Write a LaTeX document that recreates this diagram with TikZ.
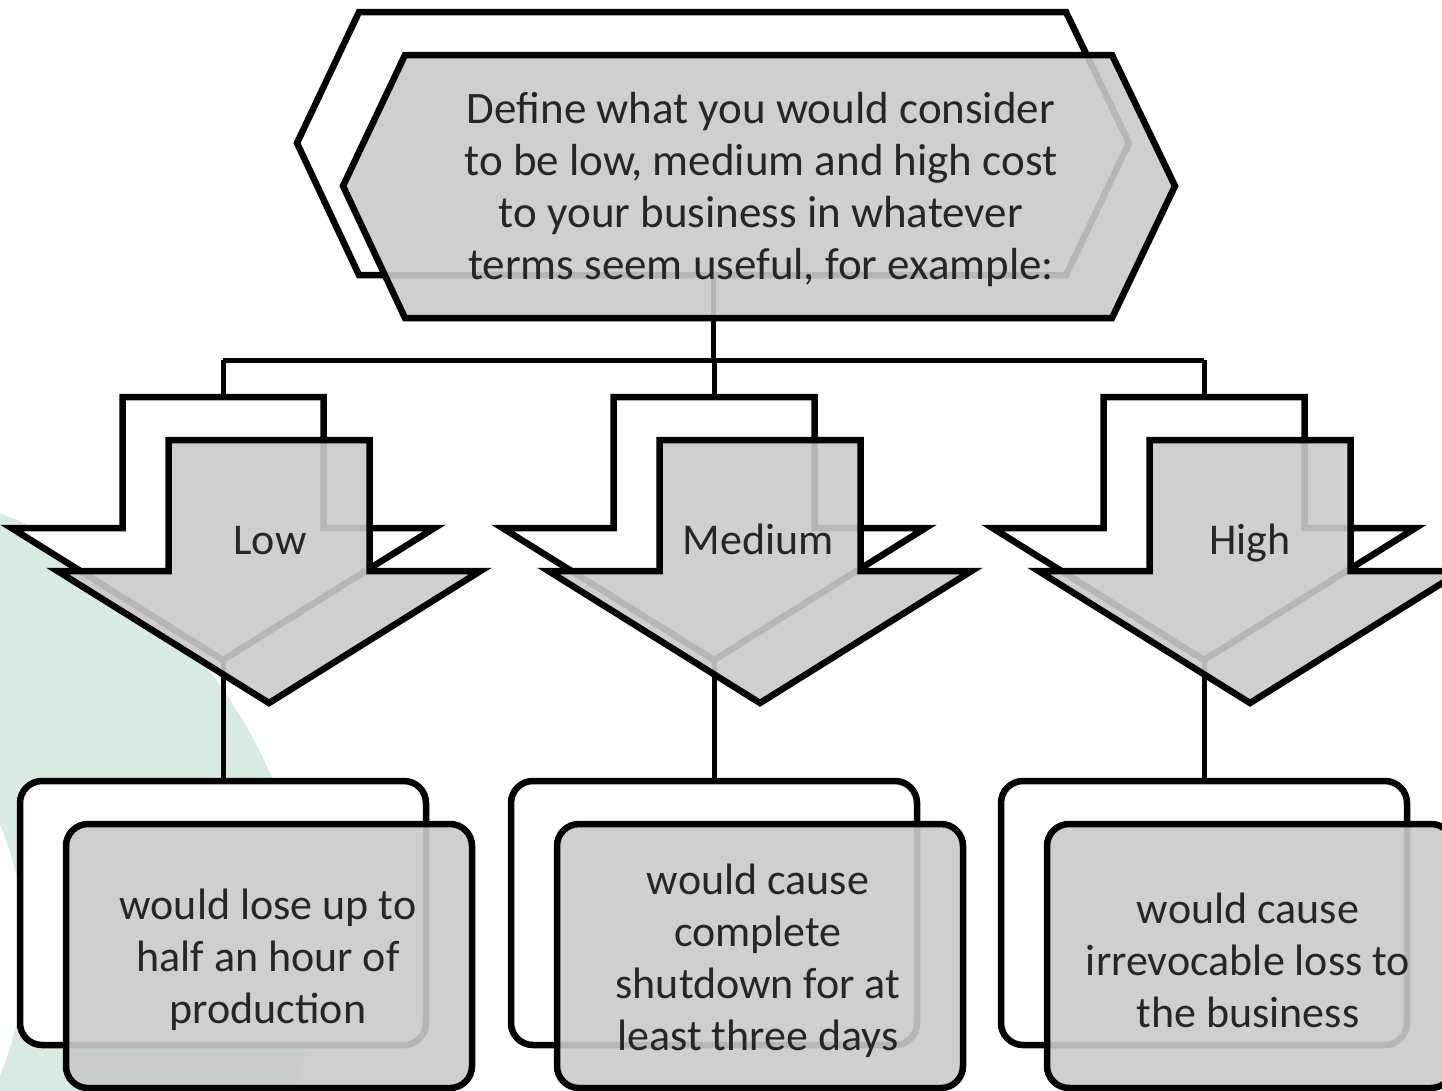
\documentclass[tikz,border=0pt]{standalone}
\usepackage{fontspec}
\setmainfont{Carlito}
\definecolor{shadegray}{RGB}{202,202,202}
\definecolor{textgray}{RGB}{38,38,38}
\definecolor{bggreen}{RGB}{217,235,225}
\begin{document}
\begin{tikzpicture}[x=1pt,y=-1pt,
  edge/.style={line width=5pt, draw=black},
  backshape/.style={line width=6.5pt, draw=black, fill=white, line join=miter},
  frontshape/.style={line width=6.5pt, draw=black, fill=shadegray, fill opacity=0.9, line join=miter},
  label/.style={text=textgray, font=\fontsize{44}{52}\selectfont, align=center, inner sep=0pt},
  boxshape/.style={rounded corners=22pt}
]
\useasboundingbox (0,0) rectangle (1442,1090);
\clip (0,0) rectangle (1442,1090);

% soft background disc
\fill[bggreen] (-180,970) circle (491);
\fill[white] (-300,950) circle (325);

% hexagon outline, used twice (offset copy behind)
\def\hexpath{(405,55) -- (1112,55) -- (1175,186) -- (1112,318) -- (405,318) -- (343,186) -- cycle}

% ---- back copies ----
\begin{scope}[shift={(-46,-43)}]
  \draw[backshape] \hexpath;
  \coordinate (hexB) at (759,318);
  \foreach \cx/\nm in {269/low,760/med,1250/high}{
    \draw[backshape] (\cx-100.5,440) -- (\cx+100.5,440) -- (\cx+100.5,571) -- (\cx+211.5,571)
      -- (\cx,703) -- (\cx-211.5,571) -- (\cx-100.5,571) -- cycle;
    \coordinate (arrB-top-\nm) at (\cx,440);
    \coordinate (arrB-tip-\nm) at (\cx,703);
    \draw[backshape, boxshape] (\cx-203,824) rectangle (\cx+203,1088);
    \coordinate (boxB-top-\nm) at (\cx,824);
  }
\end{scope}

% ---- connectors ----
\coordinate (bus) at (713,360);
\draw[edge] (hexB) -- (bus);
\draw[edge] (arrB-top-low |- bus) -- (arrB-top-high |- bus);
\foreach \nm in {low,med,high}{
  \draw[edge] (arrB-top-\nm |- bus) -- (arrB-top-\nm);
  \draw[edge] (arrB-tip-\nm) -- (boxB-top-\nm);
}

% ---- front shapes ----
\draw[frontshape] \hexpath;
\foreach \cx in {269,760,1250}{
  \draw[frontshape] (\cx-100.5,440) -- (\cx+100.5,440) -- (\cx+100.5,571) -- (\cx+211.5,571)
    -- (\cx,703) -- (\cx-211.5,571) -- (\cx-100.5,571) -- cycle;
  \draw[frontshape, boxshape] (\cx-203,824) rectangle (\cx+203,1088);
}

% ---- texts ----
\node[label, font=\fontsize{45}{52}\selectfont] (head) at (761,189) {Define what you would consider\\to be low, medium and high cost\\to your business in whatever\\terms seem useful, for example:};
\node[label, anchor=base] (lbl-low)  at (270,554) {Low};
\node[label, anchor=base] (lbl-med)  at (758,554) {Medium};
\node[label, anchor=base] (lbl-high) at (1250,554) {High};
\node[label] (txt-low)  at (268,960) {would lose up to\\half an hour of\\production};
\node[label] (txt-med)  at (758,961) {would cause\\complete\\shutdown for at\\least three days};
\node[label] (txt-high) at (1248,960) {would cause\\irrevocable loss to\\the business};
\end{tikzpicture}
\end{document}
